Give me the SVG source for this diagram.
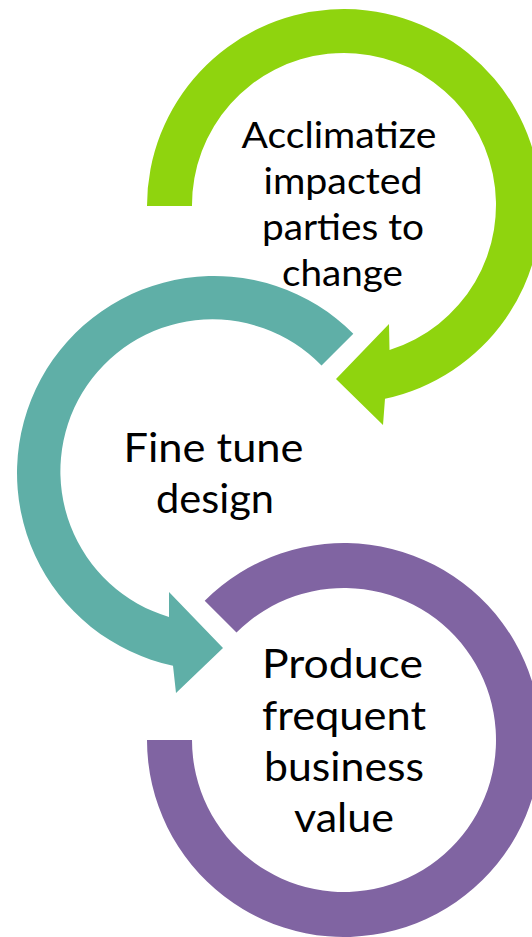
<svg xmlns="http://www.w3.org/2000/svg" width="532" height="937" viewBox="0 0 532 937">
<style>
.lbl{font-family:Lato,"Open Sans","Liberation Sans",sans-serif;fill:#000;text-anchor:middle}
.s1{font-size:36.5px}
.s2{font-size:40.5px}
</style>
<rect width="532" height="937" fill="#fff"/>
<g id="node-acclimatize">
<path fill="#8FD40E" d="M147,206 A197,197 0 1,1 385,398.7 L383,425 L336,379 L389,324 L389.5,350 A152,152 0 1,0 192,206 Z"/>
<text class="lbl s1"><tspan x="339" y="148" textLength="195" lengthAdjust="spacingAndGlyphs">Acclimatize</tspan><tspan x="343" y="194" textLength="159" lengthAdjust="spacingAndGlyphs">impacted</tspan><tspan x="343" y="240" textLength="162" lengthAdjust="spacingAndGlyphs">parties to</tspan><tspan x="342.5" y="286" textLength="121" lengthAdjust="spacingAndGlyphs">change</tspan></text>
</g>
<g id="node-finetune">
<path fill="#5FAFA7" d="M353.3,333.7 A197,197 0 1,0 173,665.7 L176,693 L223,648 L169,592 L169,617 A152,152 0 1,1 321.5,365.5 Z"/>
<text class="lbl s2"><tspan x="213.5" y="462" textLength="180" lengthAdjust="spacingAndGlyphs">Fine tune</tspan><tspan x="215" y="513" textLength="118" lengthAdjust="spacingAndGlyphs">design</tspan></text>
</g>
<g id="node-produce">
<path fill="#8064A2" d="M204.7,600.7 A197,197 0 1,1 147,740 L192,740 A152,152 0 1,0 236.5,632.5 Z"/>
<text class="lbl s2"><tspan x="342.5" y="678" textLength="161" lengthAdjust="spacingAndGlyphs">Produce</tspan><tspan x="344" y="730" textLength="164" lengthAdjust="spacingAndGlyphs">frequent</tspan><tspan x="344" y="781" textLength="160" lengthAdjust="spacingAndGlyphs">business</tspan><tspan x="344" y="832" textLength="100" lengthAdjust="spacingAndGlyphs">value</tspan></text>
</g>
<g id="connectors"/>
</svg>
